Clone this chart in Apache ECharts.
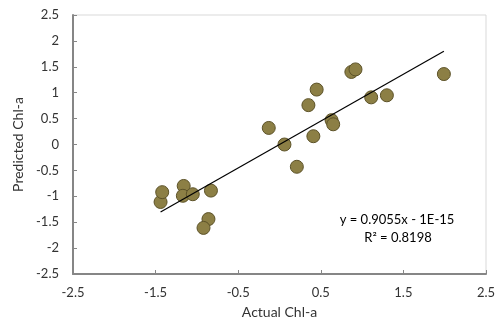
<!DOCTYPE html>
<html><head><meta charset="utf-8">
<script src="https://cdn.jsdelivr.net/npm/echarts@6/dist/echarts.min.js"></script>
<style>html,body{margin:0;padding:0;background:#fff}#c{width:496px;height:323px}</style>
</head><body><div id="c"></div>
<script>
var actual = [-1.44, -1.42, -1.16, -1.17, -1.05, -0.83, -0.86, -0.92, -0.13, 0.06, 0.21, 0.35, 0.41, 0.45, 0.63, 0.65, 0.87, 0.92, 1.11, 1.30, 1.99];
var predicted = [-1.11, -0.92, -0.80, -0.99, -0.96, -0.89, -1.44, -1.61, 0.32, 0.00, -0.43, 0.76, 0.16, 1.06, 0.47, 0.39, 1.40, 1.45, 0.91, 0.95, 1.36];
var slope = 0.9055, intercept = 0;
var eqText = 'y = 0.9055x - 1E-15';
var r2Text = 'R² = 0.8198';
var xTickMin = -2.5, xTickMax = 2.5, yTickMin = -2.5, yTickMax = 2.5;

var pts = actual.map(function (x, i) { return [x, predicted[i]]; });
var xmin = Math.min.apply(null, actual), xmax = Math.max.apply(null, actual);
var trend = [[xmin, slope * xmin + intercept], [xmax, slope * xmax + intercept]];

var font = 'Lato, "Open Sans", sans-serif';
var chart = echarts.init(document.getElementById('c'));
chart.setOption({
  animation: false,
  grid: { left: 73, top: 15, width: 413, height: 259, show: true, borderColor: '#D9D9D9', borderWidth: 1, containLabel: false, outerBoundsMode: 'none' },
  xAxis: {
    type: 'value', min: xTickMin, max: xTickMax, interval: 1,
    name: 'Actual Chl-a', nameLocation: 'middle', nameGap: 31,
    nameTextStyle: { fontFamily: font, fontSize: 14, color: '#333333' },
    axisLine: { show: true, onZero: false, lineStyle: { color: '#868686', width: 2 } },
    axisTick: { show: true, inside: true, length: 4, lineStyle: { color: '#868686', width: 1 } },
    axisLabel: { fontFamily: font, fontSize: 13, color: '#333333', margin: 12, showMinLabel: true, showMaxLabel: true },
    splitLine: { show: false }
  },
  yAxis: {
    type: 'value', min: yTickMin, max: yTickMax, interval: 0.5,
    name: 'Predicted Chl-a', nameLocation: 'middle', nameGap: 44, nameRotate: 90,
    nameTextStyle: { fontFamily: font, fontSize: 14, color: '#333333' },
    axisLine: { show: true, onZero: false, lineStyle: { color: '#868686', width: 2 } },
    axisTick: { show: true, inside: true, length: 4, lineStyle: { color: '#868686', width: 1 } },
    axisLabel: { fontFamily: font, fontSize: 13, color: '#333333', margin: 14 },
    splitLine: { show: false }
  },
  series: [
    {
      type: 'line', data: trend, symbol: 'none', silent: true,
      lineStyle: { color: '#000000', width: 1.2 }, z: 3
    },
    {
      type: 'scatter', data: pts, symbolSize: 13, z: 2,
      itemStyle: { color: '#8C7F45', borderColor: '#5C5228', borderWidth: 1, opacity: 1 }
    }
  ],
  graphic: [
    { type: 'text', x: 397, y: 220, style: { text: eqText, font: '13px ' + font, fill: '#000', align: 'center', verticalAlign: 'middle' } },
    { type: 'text', x: 398, y: 238, style: { text: r2Text, font: '13px ' + font, fill: '#000', align: 'center', verticalAlign: 'middle' } }
  ]
});
</script></body></html>
